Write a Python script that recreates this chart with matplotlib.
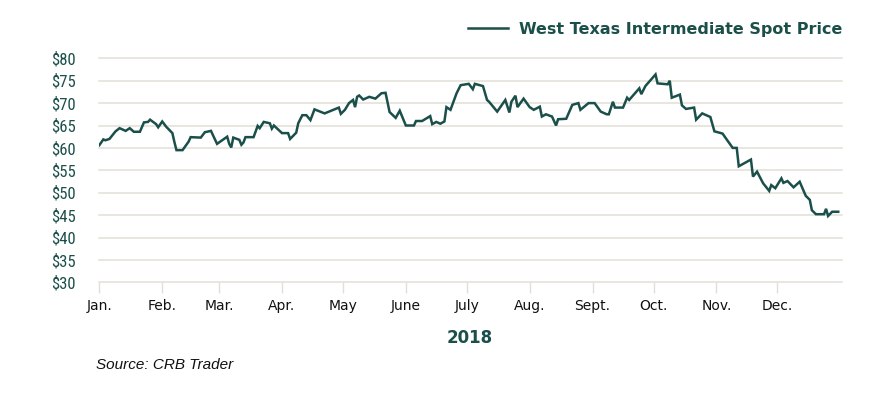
import matplotlib
matplotlib.use("Agg")
import matplotlib.pyplot as plt
from matplotlib.lines import Line2D
from matplotlib import font_manager as fm
import pandas as pd

# ---- data ----
dates = [
    "01-01", "01-03", "01-04", "01-06", "01-09", "01-11", "01-14", "01-16", "01-18", "01-21",
    "01-23", "01-25", "01-26", "01-29", "01-30", "02-01", "02-03", "02-06", "02-07", "02-08",
    "02-11", "02-14", "02-15", "02-20", "02-22", "02-25", "02-28", "03-05", "03-06", "03-07",
    "03-08", "03-11", "03-12", "03-13", "03-14", "03-18", "03-20", "03-21", "03-23", "03-26",
    "03-27", "03-28", "04-01", "04-04", "04-05", "04-08", "04-09", "04-11", "04-13", "04-15",
    "04-17", "04-22", "04-29", "04-30", "05-02", "05-04", "05-06", "05-07", "05-08", "05-09",
    "05-11", "05-14", "05-17", "05-20", "05-22", "05-24", "05-27", "05-29", "06-01", "06-05",
    "06-06", "06-09", "06-13", "06-14", "06-16", "06-18", "06-20", "06-21", "06-23", "06-26",
    "06-28", "07-02", "07-04", "07-05", "07-09", "07-11", "07-12", "07-16", "07-20", "07-22",
    "07-23", "07-25", "07-26", "07-29", "08-01", "08-03", "08-06", "08-07", "08-09", "08-12",
    "08-14", "08-15", "08-19", "08-22", "08-25", "08-26", "08-30", "09-02", "09-05", "09-08",
    "09-09", "09-11", "09-12", "09-16", "09-18", "09-19", "09-24", "09-25", "09-27", "10-02",
    "10-03", "10-08", "10-09", "10-10", "10-14", "10-15", "10-17", "10-21", "10-22", "10-25",
    "10-29", "10-31", "11-04", "11-09", "11-11", "11-12", "11-18", "11-19", "11-21", "11-24",
    "11-27", "11-28", "11-30", "12-03", "12-04", "12-06", "12-09", "12-12", "12-15", "12-17",
    "12-18", "12-20", "12-24", "12-25", "12-26", "12-28", "12-31",
]
prices = [
    60.6, 61.9, 61.7, 62.0, 63.7, 64.4, 63.8, 64.4, 63.6, 63.6,
    65.7, 65.8, 66.3, 65.3, 64.6, 65.9, 64.7, 63.3, 61.3, 59.5,
    59.5, 61.4, 62.4, 62.3, 63.5, 63.8, 60.9, 62.5, 60.9, 60.1,
    62.3, 61.8, 60.7, 61.2, 62.4, 62.4, 64.9, 64.4, 65.8, 65.5,
    64.3, 65.0, 63.3, 63.3, 62.0, 63.4, 65.5, 67.3, 67.3, 66.2,
    68.6, 67.7, 69.0, 67.6, 68.5, 70.0, 70.7, 69.1, 71.4, 71.7,
    70.8, 71.4, 71.0, 72.2, 72.3, 68.0, 66.7, 68.3, 65.0, 65.0,
    66.0, 66.0, 67.1, 65.3, 65.8, 65.4, 65.9, 69.1, 68.5, 72.2,
    74.0, 74.3, 73.1, 74.3, 73.8, 70.7, 70.3, 68.1, 70.7, 67.9,
    70.3, 71.65, 69.1, 71.0, 69.1, 68.5, 69.2, 67.0, 67.5, 67.0,
    65.0, 66.4, 66.5, 69.6, 70.0, 68.5, 70.0, 70.0, 68.1, 67.5,
    67.5, 70.3, 69.0, 69.0, 71.2, 70.7, 73.3, 72.0, 73.8, 76.4,
    74.4, 74.2, 75.0, 71.2, 71.9, 69.5, 68.7, 69.0, 66.3, 67.7,
    66.9, 63.7, 63.2, 60.0, 60.0, 55.9, 57.4, 53.6, 54.7, 52.1,
    50.4, 51.7, 51.0, 53.2, 52.2, 52.6, 51.2, 52.45, 49.3, 48.4,
    46.1, 45.2, 45.2, 46.4, 44.8, 45.75, 45.75,
]
month_starts = ["01-01", "02-01", "03-01", "04-01", "05-01", "06-01",
                "07-01", "08-01", "09-01", "10-01", "11-01", "12-01"]
month_labels = ["Jan.", "Feb.", "Mar.", "Apr.", "May", "June",
                "July", "Aug.", "Sept.", "Oct.", "Nov.", "Dec."]
y_ticks = [30, 35, 40, 45, 50, 55, 60, 65, 70, 75, 80]
y_labels = ["$" + str(v) for v in y_ticks]
series_name = "West Texas Intermediate Spot Price"
year_label = "2018"
source_text = "Source: CRB Trader"

# ---- style ----
TEAL = "#1b4f4a"
GRID = "#e3dfd7"
W, H = 893, 396

# pick a narrow font for the y labels if one is installed
names = {f.name for f in fm.fontManager.ttflist}
narrow = None
for cand in ["Liberation Sans Narrow", "Roboto Condensed", "Open Sans Condensed",
             "Noto Sans Condensed", "DejaVu Sans Condensed"]:
    if cand in names:
        narrow = cand
        break
if narrow is not None:
    ylab_font = fm.FontProperties(family=narrow, size=12)
else:
    ylab_font = fm.FontProperties(family="DejaVu Sans", stretch="condensed", size=11)

x = pd.to_datetime(["2018-" + d for d in dates])
xt = pd.to_datetime(["2018-" + d for d in month_starts])

fig = plt.figure(figsize=(W / 100, H / 100), dpi=100)
ax = fig.add_axes([99.3 / W, 1 - 282.3 / H, (842.3 - 99.3) / W, (282.3 - 58.3) / H])

for v in y_ticks:
    ax.axhline(v, color=GRID, lw=1.1, zorder=0, clip_on=False)

ax.plot(x, prices, color=TEAL, lw=1.8, zorder=3, solid_joinstyle="miter")

ax.set_xlim(pd.Timestamp("2018-01-01"), pd.Timestamp("2019-01-02"))
ax.set_ylim(30, 80)
for s in ax.spines.values():
    s.set_visible(False)

ax.set_xticks(xt)
ax.set_xticklabels(month_labels)
ax.tick_params(axis="x", length=8, width=1, color=GRID, pad=4, labelsize=10,
               labelcolor="#111111")
ax.set_yticks(y_ticks)
ax.set_yticklabels(y_labels)
for lab in ax.get_yticklabels():
    lab.set_fontproperties(ylab_font)
ax.tick_params(axis="y", length=0, pad=17, labelcolor=TEAL)

# legend
fig.add_artist(Line2D([467.7 / W, 508.3 / W], [1 - 28 / H, 1 - 28 / H],
                      color=TEAL, lw=1.8, transform=fig.transFigure))
fig.text(842 / W, 1 - 29.5 / H, series_name, ha="right", va="center",
         fontsize=11.5, fontweight="bold", color=TEAL)

fig.text(470 / W, 1 - 338 / H, year_label, ha="center", va="center",
         fontsize=12, fontweight="bold", color=TEAL)
fig.text(96 / W, 1 - 365 / H, source_text, ha="left", va="center",
         fontsize=11, style="italic", color="#111111",
         family=["Liberation Sans", "DejaVu Sans"])

fig.savefig("out.png", dpi=100)
